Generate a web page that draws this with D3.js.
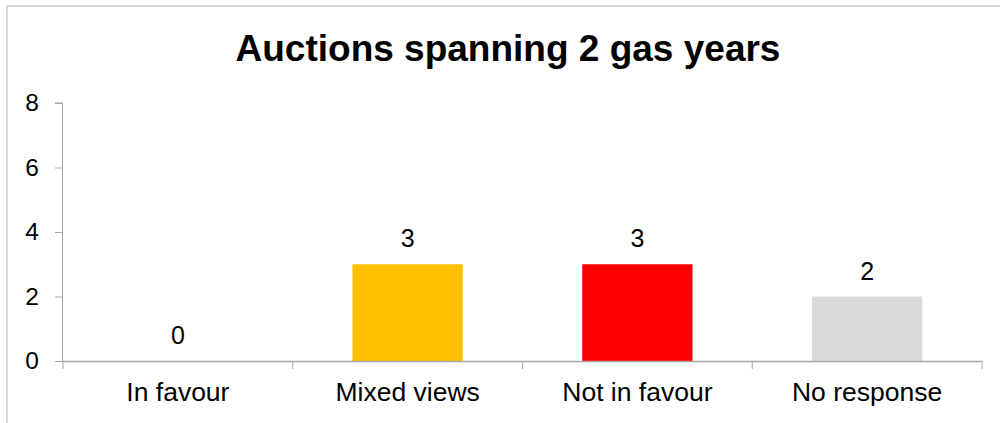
<!DOCTYPE html>
<html>
<head>
<meta charset="utf-8">
<script src="https://cdn.jsdelivr.net/npm/d3@7"></script>
<style>
  html, body { margin: 0; padding: 0; background: #fff; }
  svg { display: block; }
  text { font-family: "Liberation Sans", Arial, sans-serif; fill: #000; }
</style>
</head>
<body>
<svg id="chart" width="1000" height="423"></svg>
<script>
const categories = ["In favour", "Mixed views", "Not in favour", "No response"];
const values = [0, 3, 3, 2];
const colors = ["#ffc000", "#ffc000", "#ff0000", "#d9d9d9"];
const yTicks = [0, 2, 4, 6, 8];
const title = "Auctions spanning 2 gas years";

const svg = d3.select("#chart");
const W = 1000, H = 423;
const margin = { left: 63, right: 18, top: 103, bottom: 62 };

// frame (top and left light border)
svg.append("line").attr("x1", 7).attr("x2", W).attr("y1", 6).attr("y2", 6)
  .attr("stroke", "#d9d9d9").attr("stroke-width", 2);
svg.append("line").attr("x1", 7).attr("x2", 7).attr("y1", 6).attr("y2", H)
  .attr("stroke", "#d9d9d9").attr("stroke-width", 2);

const x = d3.scaleBand().domain(categories)
  .range([margin.left, W - margin.right]).paddingInner(0.52).paddingOuter(0.26);
const y = d3.scaleLinear().domain([0, 8]).range([H - margin.bottom, margin.top]);

// title
svg.append("text").attr("x", 508).attr("y", 61).attr("text-anchor", "middle")
  .style("font-size", "37px").style("font-weight", "bold").text(title);

// bars
svg.append("g").selectAll("rect").data(values).join("rect")
  .attr("x", (d, i) => x(categories[i]))
  .attr("y", d => y(d))
  .attr("width", x.bandwidth())
  .attr("height", d => y(0) - y(d))
  .attr("fill", (d, i) => colors[i]);

// data labels
svg.append("g").selectAll("text").data(values).join("text")
  .attr("x", (d, i) => x(categories[i]) + x.bandwidth() / 2)
  .attr("y", d => y(d) - 17)
  .attr("text-anchor", "middle")
  .style("font-size", "25px")
  .text(d => d);

// y axis
const yAxis = d3.axisLeft(y).tickValues(yTicks).tickSize(8).tickPadding(16);
const gy = svg.append("g").attr("transform", `translate(${margin.left},0)`).call(yAxis);
gy.select(".domain").attr("stroke", "#a6a6a6").attr("d", `M-0.5,${y(0)}V${y(8)}H-8`);
gy.selectAll(".tick line").attr("stroke", "#a6a6a6");
gy.selectAll(".tick text").style("font-size", "24.5px").attr("fill", "#000")
  .style("font-family", "Liberation Sans, Arial, sans-serif");

// x axis with boundary ticks
const xAxisY = y(0);
svg.append("line").attr("x1", margin.left).attr("x2", W - margin.right)
  .attr("y1", xAxisY + 0.5).attr("y2", xAxisY + 0.5).attr("stroke", "#a6a6a6").attr("stroke-width", 1.5);
const bounds = d3.range(categories.length + 1).map(i => margin.left + i * (W - margin.left - margin.right) / categories.length);
svg.append("g").selectAll("line").data(bounds).join("line")
  .attr("x1", d => d).attr("x2", d => d)
  .attr("y1", xAxisY).attr("y2", xAxisY + 8)
  .attr("stroke", "#a6a6a6");

// category labels
svg.append("g").selectAll("text").data(categories).join("text")
  .attr("x", d => x(d) + x.bandwidth() / 2)
  .attr("y", 401)
  .attr("text-anchor", "middle")
  .style("font-size", "26.5px")
  .text(d => d);
</script>
</body>
</html>
